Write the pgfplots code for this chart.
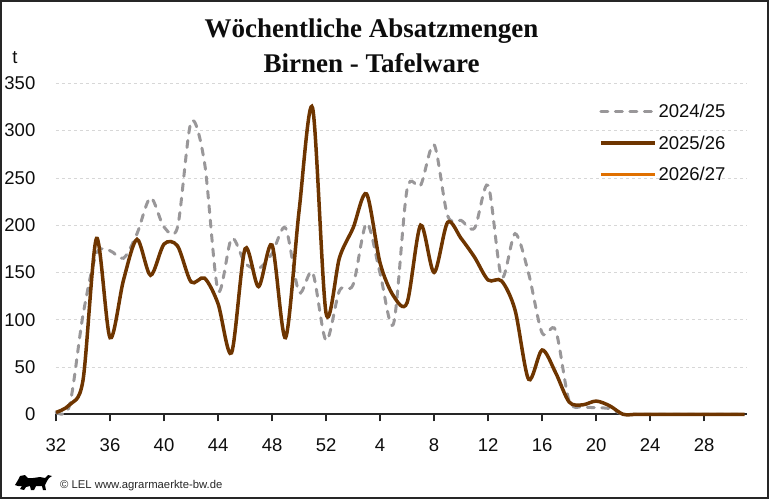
\documentclass[border=0pt]{standalone}
\usepackage{pgfplots}
\pgfplotsset{compat=1.18}
\usepackage{pgfplotstable}
\usepackage{fontspec}
\setmainfont{Liberation Sans}
\newfontfamily\titlefont{Liberation Serif}
\definecolor{cgray}{RGB}{153,151,153}
\definecolor{cbrown}{RGB}{110,53,0}
\definecolor{corange}{RGB}{224,112,0}
\definecolor{cgrid}{RGB}{215,215,215}
\definecolor{caxis}{RGB}{38,38,38}
\definecolor{ctext}{RGB}{13,13,13}
\pgfplotstableread{
x g b
0 2 2
1 9 10
2 105 36
3 170 186
4 173 81
5 165 142
6 191 185
7 229 147
8 198 180
9 198 178
10 309 140
11 266 144
12 131 117
13 186 65
14 160 175
15 154 135
16 170 179
17 197 81
18 129 215
19 150 324
20 78 107
21 131 166
22 137 197
23 202 233
24 149 160
25 96 125
26 238 118
27 242 200
28 285 150
29 210 203
30 205 186
31 197 166
32 242 142
33 145 141
34 191 110
35 149 37
36 86 68
37 89 44
38 14 13
39 8 10
40 7 14
41 6 9
42 0 0
43 0 0
44 0 0
45 0 0
46 0 0
47 0 0
48 0 0
49 0 0
50 0 0
51 0 0
}\data
\begin{document}
\begin{tikzpicture}[x=1pt,y=1pt]
\useasboundingbox (0,0) rectangle (769,499);
\draw[line width=2pt, draw=caxis] (1,1) rectangle (768,498);
\node[anchor=base, font=\titlefont\bfseries\fontsize{27}{30}\selectfont, text=ctext] at (371.5,461.7) {Wöchentliche Absatzmengen};
\node[anchor=base, font=\titlefont\bfseries\fontsize{27}{30}\selectfont, text=ctext] at (371.5,426.7) {Birnen - Tafelware};
\node[font=\fontsize{18.5}{20}\selectfont, text=ctext] at (15,441) {t};
\begin{axis}[
  scale only axis,
  width=690.7pt, height=331pt,
  at={(56pt,84.7pt)}, anchor=south west,
  xmin=0, xmax=51.15, ymin=0, ymax=350,
  clip=false,
  axis x line=bottom, axis y line=left,
  x axis line style={-, line width=2pt, draw=caxis},
  y axis line style={draw=none},
  xtick={0,4,...,48},
  xticklabels={32,36,40,44,48,52,4,8,12,16,20,24,28},
  ytick={0,50,...,350},
  xtick align=outside,
  major tick length=7pt,
  xtick style={line width=2pt, draw=caxis},
  ytick style={draw=none},
  ymajorgrids,
  grid style={cgrid, dashed, line width=0.6pt},
  tick label style={font=\fontsize{18.5}{20}\selectfont, text=ctext},
  /pgf/number format/assume math mode=true,
  yticklabel style={inner sep=0pt, xshift=-17pt},
  xticklabel style={inner sep=0pt, yshift=-17pt},
  legend style={draw=none, fill=none, at={(axis description cs:0.786,0.943)}, anchor=north west,
    font=\fontsize{18.5}{20}\selectfont, row sep=12.5pt, inner sep=0pt,
    nodes={inner sep=2pt, text=ctext}},
  legend cell align=left,
  legend image code/.code={\draw[#1] (0pt,0pt) -- (54pt,0pt);},
]
\addplot[cgray, line width=3pt, line cap=round, dash pattern=on 7pt off 7.5pt, smooth] table[x=x,y=g] {\data};
\addlegendentry{2024/25}
\addplot[cbrown, line width=3.5pt, smooth] table[x=x,y=b] {\data};
\addlegendentry{2025/26}
\addlegendimage{corange, line width=3.5pt}
\addlegendentry{2026/27}
\end{axis}
\fill[black] (15,14) -- (18,19) -- (20,23) -- (25,24) -- (28,21) -- (33,21) -- (40,22) -- (45,21) -- (48,24) -- (52,23) -- (49,21) -- (47,18) -- (45,14) -- (46,9) -- (43,9) -- (42,13) -- (36,13) -- (34,9) -- (31,9) -- (30,13) -- (26,12) -- (24,9) -- (20,10) -- (22,13) -- (18,13) -- cycle;
\node[anchor=base west, inner sep=0pt, font=\fontsize{11.3}{13}\selectfont, text=caxis] at (60,11) {© LEL www.agrarmaerkte-bw.de};
\end{tikzpicture}
\end{document}
